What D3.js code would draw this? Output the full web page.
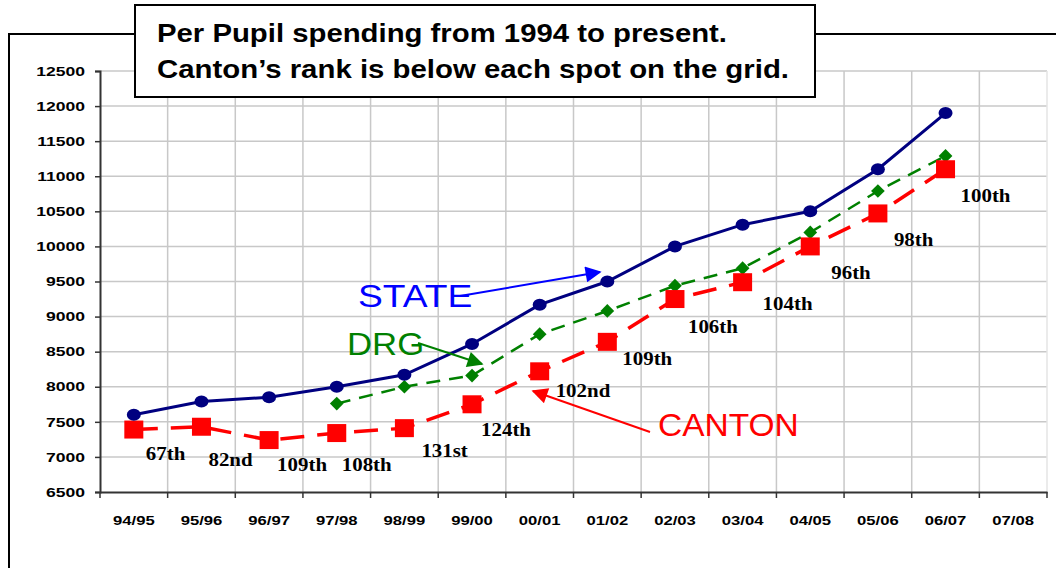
<!DOCTYPE html>
<html lang="en">
<head>
  <meta charset="UTF-8">
  <title>Per Pupil spending</title>
  <script src="https://cdn.jsdelivr.net/npm/d3@7"></script>
  <style>
    body { margin: 0; background: #fff; }
    .axis text { font-family: Arial, "Liberation Sans", sans-serif; font-weight: bold; font-size: 13px; fill: #000; }
    .rank { font-family: "Times New Roman", "Liberation Serif", serif; font-weight: bold; font-size: 19px; fill: #000; }
    .note { font-family: Arial, "Liberation Sans", sans-serif; font-size: 31px; }
  </style>
</head>
<body>
<script>
  // data
  const years = ["94/95","95/96","96/97","97/98","98/99","99/00","00/01","01/02","02/03","03/04","04/05","05/06","06/07","07/08"];
  const stateVals = [7600, 7790, 7850, 8000, 8170, 8610, 9170, 9500, 10000, 10310, 10500, 11100, 11900, null];
  const drgVals = [null, null, null, 7760, 8000, 8160, 8750, 9080, 9440, 9690, 10200, 10790, 11290, null];
  const cantonVals = [7390, 7430, 7240, 7340, 7410, 7750, 8220, 8640, 9250, 9490, 10000, 10470, 11100, null];
  const ranks = ["67th","82nd","109th","108th","131st","124th","102nd","109th","106th","104th","96th","98th","100th", null];
  const yTicks = [6500, 7000, 7500, 8000, 8500, 9000, 9500, 10000, 10500, 11000, 11500, 12000, 12500];

  // where each rank label sits relative to its square
  const rankDx = [12, 7, 8, 5, 17, 9, 16, 15, 13, 20, 21, 16, 15];
  const rankDy = [30, 39, 31, 38, 29, 32, 26, 23, 34, 28, 33, 33, 33];

  const W = 1056, H = 568;
  const svg = d3.select("body").append("svg").attr("width", W).attr("height", H);

  // the source picture is stretched sideways; widen text to match
  function stretch(sel, f) {
    sel.each(function() {
      const w = this.getComputedTextLength();
      d3.select(this).attr("textLength", w * f).attr("lengthAdjust", "spacingAndGlyphs");
    });
  }

  // outer frame (runs off the picture)
  svg.append("rect").attr("x", 9).attr("y", 34).attr("width", 1200).attr("height", 700)
    .attr("fill", "none").attr("stroke", "#000").attr("stroke-width", 2);

  const x = d3.scaleBand().domain(years).range([100, 1047]).padding(0);
  const y = d3.scaleLinear().domain([6500, 12500]).range([492, 71]);
  const cx = d => x(d) + x.bandwidth() / 2;

  // grid
  const grid = svg.append("g");
  grid.selectAll("line.h").data(yTicks.slice(1)).enter().append("line")
    .attr("x1", 100).attr("x2", 1047).attr("y1", d => y(d)).attr("y2", d => y(d))
    .attr("stroke", "#c8c8c8").attr("stroke-width", 1.5);
  grid.selectAll("line.v").data(years.slice(1).concat(["end"])).enter().append("line")
    .attr("x1", (d, i) => i < years.length - 1 ? x(d) : 1047)
    .attr("x2", (d, i) => i < years.length - 1 ? x(d) : 1047)
    .attr("y1", 71).attr("y2", 492)
    .attr("stroke", (d, i) => i < years.length - 1 ? "#c8c8c8" : "#e4e4e4").attr("stroke-width", 1.5);

  // axes
  const yAxis = svg.append("g").attr("class", "axis").attr("transform", "translate(100,0)")
    .call(d3.axisLeft(y).tickValues(yTicks).tickSize(5).tickPadding(10).tickFormat(d3.format("d")));
  const xAxis = svg.append("g").attr("class", "axis").attr("transform", "translate(0,492)")
    .call(d3.axisBottom(x).tickSize(0).tickPadding(24));
  xAxis.selectAll("g.bt").data(years.concat(["end"])).enter().append("line")
    .attr("x1", (d, i) => i < years.length ? x(d) : 1047)
    .attr("x2", (d, i) => i < years.length ? x(d) : 1047)
    .attr("y1", 0).attr("y2", 6).attr("stroke", "#333").attr("stroke-width", 1.5);
  svg.selectAll(".axis .domain").attr("stroke", "#333").attr("stroke-width", 2);
  yAxis.selectAll(".tick line").attr("stroke", "#333").attr("stroke-width", 1.5);
  stretch(yAxis.selectAll(".tick text"), 1.35);
  stretch(xAxis.selectAll(".tick text"), 1.28);

  function series(vals) {
    return years.map((c, i) => ({ c, v: vals[i], i })).filter(d => d.v != null);
  }
  const line = d3.line().x(d => cx(d.c)).y(d => y(d.v));

  // DRG
  const drg = series(drgVals);
  svg.append("path").attr("d", line(drg)).attr("fill", "none")
    .attr("stroke", "#008000").attr("stroke-width", 2.5).attr("stroke-dasharray", "14,9");
  svg.selectAll("path.dia").data(drg).enter().append("path")
    .attr("d", d3.symbol().type(d3.symbolDiamond2).size(120))
    .attr("transform", d => `translate(${cx(d.c)},${y(d.v)})`)
    .attr("fill", "#008000");

  // CANTON
  const canton = series(cantonVals);
  svg.append("path").attr("d", line(canton)).attr("fill", "none")
    .attr("stroke", "#ff0000").attr("stroke-width", 3.5).attr("stroke-dasharray", "24,13");
  svg.selectAll("rect.sq").data(canton).enter().append("rect")
    .attr("x", d => cx(d.c) - 9.5).attr("y", d => y(d.v) - 9)
    .attr("width", 19).attr("height", 18).attr("fill", "#ff0000");

  // STATE
  const state = series(stateVals);
  svg.append("path").attr("d", line(state)).attr("fill", "none")
    .attr("stroke", "#000080").attr("stroke-width", 3);
  svg.selectAll("ellipse.dot").data(state).enter().append("ellipse")
    .attr("cx", d => cx(d.c)).attr("cy", d => y(d.v)).attr("rx", 7).attr("ry", 6)
    .attr("fill", "#000080");

  // ranks
  const rankText = svg.selectAll("text.rank").data(canton).enter().append("text")
    .attr("class", "rank")
    .attr("x", d => cx(d.c) + rankDx[d.i]).attr("y", d => y(d.v) + rankDy[d.i])
    .text(d => ranks[d.i]);
  stretch(rankText, 1.1);

  // annotations with arrows
  const defs = svg.append("defs");
  function arrow(id, color) {
    defs.append("marker").attr("id", id).attr("viewBox", "0 0 10 10").attr("refX", 9).attr("refY", 5)
      .attr("markerWidth", 22).attr("markerHeight", 16).attr("markerUnits", "userSpaceOnUse")
      .attr("orient", "auto")
      .append("path").attr("d", "M0,0 L10,5 L0,10 Z").attr("fill", color);
  }
  function note(label, color, tx, ty, x1, y1, x2, y2, id, f) {
    arrow(id, color);
    svg.append("line").attr("x1", x1).attr("y1", y1).attr("x2", x2).attr("y2", y2)
      .attr("stroke", color).attr("stroke-width", 2)
      .attr("marker-end", `url(#${id})`);
    const t = svg.append("text").attr("class", "note").attr("x", tx).attr("y", ty).attr("fill", color).text(label);
    stretch(t, f);
  }
  note("STATE", "#0000ff", 358, 307, 460, 296, 600, 272, "aBlue", 1.2);
  note("DRG", "#008000", 347, 355, 418, 343, 482, 364, "aGreen", 1.12);
  note("CANTON", "#ff0000", 658, 436, 650, 432, 533, 391, "aRed", 1.08);

  // title box
  svg.append("rect").attr("x", 135).attr("y", 5).attr("width", 680).attr("height", 92)
    .attr("fill", "#fff").attr("stroke", "#000").attr("stroke-width", 2);
  const title = svg.append("text").attr("font-family", "Arial, 'Liberation Sans', sans-serif")
    .attr("font-weight", "bold").attr("font-size", 25).attr("fill", "#000");
  const t1 = title.append("tspan").attr("x", 157).attr("y", 42).text("Per Pupil spending from 1994 to present.");
  const t2 = title.append("tspan").attr("x", 157).attr("y", 78).text("Canton\u2019s rank is below each spot on the grid.");
  t1.attr("textLength", 570).attr("lengthAdjust", "spacingAndGlyphs");
  t2.attr("textLength", 632).attr("lengthAdjust", "spacingAndGlyphs");
</script>
</body>
</html>
